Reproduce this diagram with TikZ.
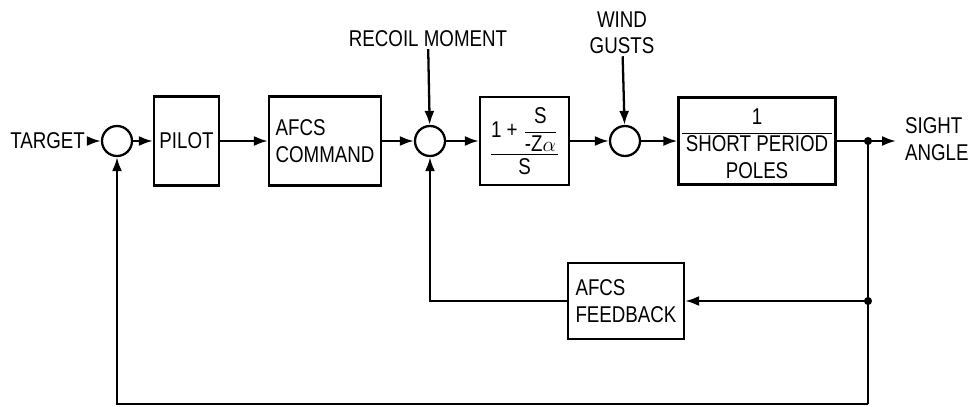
\documentclass[tikz,border=0pt]{standalone}
\usepackage{amsmath}
\usepackage{fontspec}
\setmainfont{Liberation Sans}[FakeStretch=0.82]
\usepackage{tikz}
\usetikzlibrary{arrows.meta,positioning}

\begin{document}
\begin{tikzpicture}[
  x=0.02cm, y=-0.02cm,
  font=\fontsize{13}{15}\selectfont,
  block/.style={rectangle, draw, line width=1.3pt, inner sep=2pt, align=left},
  sumnode/.style={circle, draw, line width=1.3pt, minimum size=0.6cm, inner sep=0pt},
  label/.style={inner sep=1pt, align=center},
  arrow/.style={-{Latex[length=2.8mm,width=2mm]}, line width=1.3pt},
  line/.style={line width=1.3pt}
]
  \useasboundingbox (0,0) rectangle (974,406);
  % forward path
  \node[label, anchor=east] (target) at (87,141) {TARGET};
  \node[sumnode] (sum1) at (117,141) {};
  \node[block, minimum width=1.3cm, minimum height=1.78cm] (pilot) at (186.5,141) {PILOT};
  \node[block, minimum width=2.24cm, minimum height=1.78cm] (cmd) at (325,141) {AFCS\\COMMAND};
  \node[sumnode] (sum2) at (430,141) {};
  \node[block, minimum width=1.78cm, minimum height=1.76cm] (lead) at (524.5,141)
    {$\dfrac{\text{1 + }\dfrac{\text{S}}{\text{-Z}\alpha}}{\text{S}}$};
  \node[sumnode] (sum3) at (625,141) {};
  \node[block, minimum width=3.12cm, minimum height=1.74cm, align=center] (plant) at (757,141)
    {\raisebox{-3pt}[\height][\depth]{\begin{tabular}{@{\,}c@{\,}}1\\\hline SHORT PERIOD\\POLES\end{tabular}}};
  \coordinate (pick) at (868,141);
  \coordinate (outend) at (896,141);
  \node[label, anchor=west, align=left] (sight) at (903,139) {SIGHT\\ANGLE};
  % disturbances
  \node[label] (recoil) at (428,39) {RECOIL MOMENT};
  \node[label] (gusts) at (622,33) {WIND\\GUSTS};
  % feedback
  \node[block, minimum width=2.32cm, minimum height=1.52cm] (fb) at (626,301) {AFCS\\FEEDBACK};
  \coordinate (pick2) at (868,301);
  \coordinate (corner) at (868,404);

  \draw[arrow] (target) -- (sum1);
  \draw[arrow] (sum1) -- (pilot);
  \draw[arrow] (pilot) -- (cmd);
  \draw[arrow] (cmd) -- (sum2);
  \draw[arrow] (recoil) -- (sum2);
  \draw[arrow] (sum2) -- (lead);
  \draw[arrow] (lead) -- (sum3);
  \draw[arrow] (gusts) -- (sum3);
  \draw[arrow] (sum3) -- (plant);
  \draw[line] (plant) -- (pick);
  \draw[arrow] (pick) -- (outend);
  \draw[line] (pick) -- (pick2) -- (corner);
  \draw[arrow] (pick2) -- (fb);
  \draw[arrow] (fb) -| (sum2);
  \draw[arrow] (corner) -| (sum1);
  \fill (pick) circle (2.3pt);
  \fill (pick2) circle (2.3pt);
\end{tikzpicture}
\end{document}
